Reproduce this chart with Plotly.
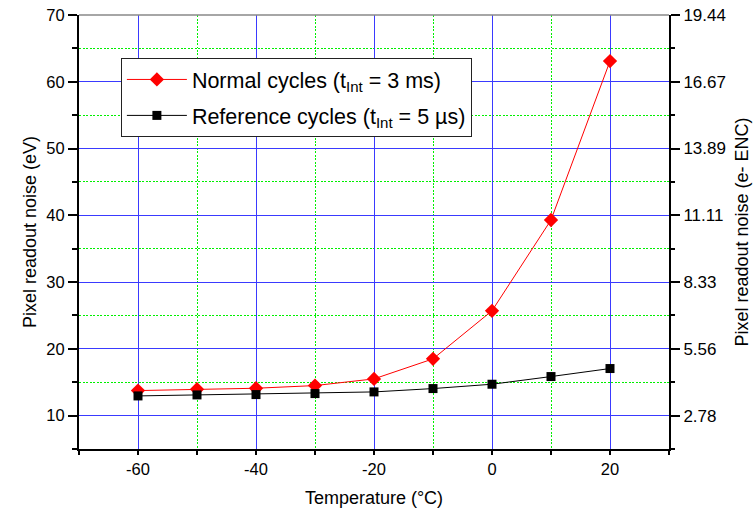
import plotly.graph_objects as go

temperature = [-60, -50, -40, -30, -20, -10, 0, 10, 20]
normal_ev = [13.75, 13.95, 14.1, 14.5, 15.5, 18.5, 25.7, 39.3, 63.1]
reference_ev = [12.95, 13.1, 13.15, 13.3, 13.55, 14.05, 14.7, 15.85, 17.05]

left_tickvals = [10, 20, 30, 40, 50, 60, 70]
right_ticktext = ["2.78", "5.56", "8.33", "11.11", "13.89", "16.67", "19.44"]
x_tickvals = [-60, -40, -20, 0, 20]
x_ticktext = ["-60", "-40", "-20", "0", "20"]

FONT = "Liberation Sans, Arial, sans-serif"
BLUE = "#3a3aff"
GREEN = "#00f000"

fig = go.Figure()
fig.add_trace(go.Scatter(
    x=temperature, y=normal_ev, mode="lines+markers",
    name="Normal cycles (t<sub>Int</sub> = 3 ms)", legendgroup="a",
    line=dict(color="#ff0000", width=1),
    marker=dict(symbol="diamond", size=11, color="#ff0000"),
))
fig.add_trace(go.Scatter(
    x=temperature, y=reference_ev, mode="lines+markers",
    name="Reference cycles (t<sub>Int</sub> = 5 µs)", legendgroup="b",
    line=dict(color="#000000", width=1),
    marker=dict(symbol="square", size=9, color="#000000"),
))
fig.add_trace(go.Scatter(
    x=[None], y=[None], yaxis="y2", showlegend=False, hoverinfo="skip",
))

fig.update_layout(
    width=756, height=516,
    margin=dict(l=79, r=87, t=15, b=67, autoexpand=False),
    paper_bgcolor="white", plot_bgcolor="white",
    font=dict(family=FONT, size=16, color="black"),
    showlegend=True,
    legend=dict(
        x=0.071, y=0.901, xanchor="left", yanchor="top",
        bgcolor="white", bordercolor="#222222", borderwidth=1,
        font=dict(size=21.5, family=FONT), tracegroupgap=5, itemwidth=60,
    ),
    xaxis=dict(
        range=[-70, 30], tickvals=x_tickvals, ticktext=x_ticktext,
        showline=True, linecolor="black", linewidth=2,
        ticks="outside", ticklen=4, tickwidth=1.5, tickcolor="black",
        showgrid=True, gridcolor=BLUE, gridwidth=1.2,
        minor=dict(dtick=10, tick0=0, ticks="outside", ticklen=4, tickwidth=1.5, tickcolor="black",
                   showgrid=True, gridcolor=GREEN, griddash="2px,1.5px", gridwidth=1.2),
        zeroline=False, automargin=False,
        title=dict(text="Temperature (°C)", font=dict(size=18), standoff=15),
        tickfont=dict(size=16.5), ticklabeloverflow="allow",
    ),
    yaxis=dict(
        range=[5, 70], tickvals=left_tickvals,
        showline=True, linecolor="black", linewidth=2,
        ticks="outside", ticklen=9, tickwidth=1.5, tickcolor="black",
        showgrid=True, gridcolor=BLUE, gridwidth=1.2,
        minor=dict(dtick=5, tick0=0, ticks="outside", ticklen=5, tickwidth=1.5, tickcolor="black",
                   showgrid=True, gridcolor=GREEN, griddash="2px,1.5px", gridwidth=1.2),
        zeroline=False, automargin=False,
        title=dict(text="Pixel readout noise (eV)", font=dict(size=18), standoff=5),
        tickfont=dict(size=16.5), ticklabeloverflow="allow",
    ),
    yaxis2=dict(
        overlaying="y", side="right", range=[5, 70],
        tickvals=left_tickvals, ticktext=right_ticktext,
        showline=True, linecolor="black", linewidth=2,
        ticks="outside", ticklen=9, tickwidth=1.5, tickcolor="black",
        minor=dict(dtick=5, tick0=0, ticks="outside", ticklen=4, tickwidth=1.5, tickcolor="black"),
        showgrid=False, zeroline=False, automargin=False,
        title=dict(text="Pixel readout noise (e- ENC)", font=dict(size=18), standoff=10),
        tickfont=dict(size=17), ticklabeloverflow="allow",
    ),
    shapes=[dict(type="line", xref="paper", yref="paper", x0=0, x1=1, y0=1, y1=1,
                 line=dict(color="#888888", width=1.5), layer="above")],
)

# remove the default 8px page margin so the 756x516 figure fills the window exactly
fig.write_html(
    "out.html",
    config={"displayModeBar": False},
    post_script="document.body.style.margin='0';",
)
